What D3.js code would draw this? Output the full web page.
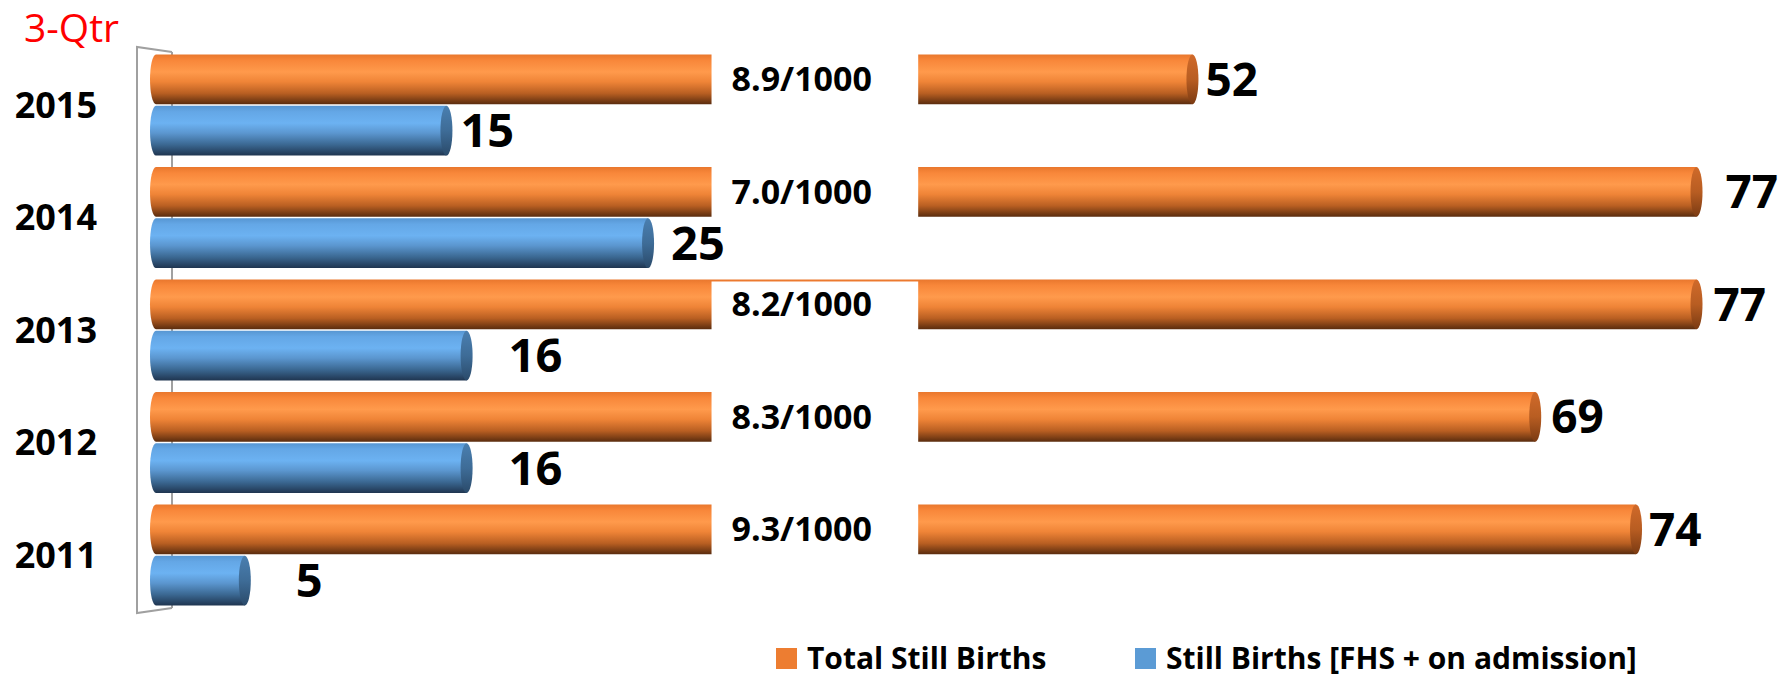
<!DOCTYPE html>
<html>
<head>
<meta charset="utf-8">
<script src="https://cdn.jsdelivr.net/npm/d3@7"></script>
<style>
  body { margin: 0; background: #fff; }
  text { font-family: "Open Sans", "Noto Sans", sans-serif; }
</style>
</head>
<body>
<div id="chart"></div>
<script>
// data
const years = ['2015', '2014', '2013', '2012', '2011'];
const totalStillBirths = [52, 77, 77, 69, 74];
const fhsStillBirths = [15, 25, 16, 16, 5];
const rateLabels = ['8.9/1000', '7.0/1000', '8.2/1000', '8.3/1000', '9.3/1000'];
const seriesNames = ['Total Still Births', 'Still Births [FHS + on admission]'];
const periodLabel = '3-Qtr';

// layout: hand-moved labels in the original, px gap after bar end
const totalLabelGap = [7, 23, 11, 10, 7];
const fhsLabelGap = [8, 17, 36, 36, 45];

const width = 1791, height = 678;

const svg = d3.select('#chart').append('svg')
  .attr('width', width)
  .attr('height', height);

const defs = svg.append('defs');

function cylGrad(id, stops) {
  const g = defs.append('linearGradient')
    .attr('id', id)
    .attr('x1', 0).attr('y1', 0).attr('x2', 0).attr('y2', 1);
  stops.forEach(s => g.append('stop').attr('offset', s[0]).attr('stop-color', s[1]));
}
cylGrad('orangeBody', [[0, '#e9772d'], [0.12, '#f8873a'], [0.35, '#ff9a4c'], [0.55, '#ef8437'], [0.78, '#b95f22'], [1, '#5a2c0e']]);
cylGrad('blueBody', [[0, '#5796d2'], [0.12, '#64a7e6'], [0.35, '#6cb2f2'], [0.55, '#5b96cf'], [0.78, '#3b6892'], [1, '#1f3550']]);
cylGrad('orangeCap', [[0, '#d06a2a'], [0.5, '#b85d22'], [1, '#7a3a12']]);
cylGrad('blueCap', [[0, '#4a7fb0'], [0.5, '#3e6c97'], [1, '#2a4a6a']]);

const x = d3.scaleLinear().domain([0, 80]).range([150, 1763]);

const y = d3.scaleBand()
  .domain(years)
  .range([48, 612])
  .paddingInner(0.102)
  .paddingOuter(0.058);

const ySub = d3.scaleBand()
  .domain(['total', 'fhs'])
  .range([0, y.bandwidth()])
  .paddingInner(0.03);

// 3D wall outline (back line first so bars cover it)
svg.append('line')
  .attr('x1', 172).attr('y1', 52).attr('x2', 172).attr('y2', 608)
  .attr('stroke', '#a0a0a0').attr('stroke-width', 2);
svg.append('path')
  .attr('d', 'M172,52 L137,47 L137,613 L172,608')
  .attr('fill', 'none')
  .attr('stroke', '#a0a0a0')
  .attr('stroke-width', 2);

const rx = 6;

function barPath(x0, x1, top, h) {
  const b = top + h;
  return `M${x0 + rx},${top} L${x1 - rx},${top} L${x1 - rx},${b} L${x0 + rx},${b}` +
    ` A${rx},${h / 2} 0 0 1 ${x0 + rx},${top} Z`;
}

function drawSeries(values, key, body, cap) {
  const g = svg.append('g');
  const rows = g.selectAll('g').data(values).enter().append('g')
    .attr('transform', (d, i) => `translate(0,${y(years[i]) + ySub(key)})`);
  rows.append('path')
    .attr('d', d => barPath(x(0), x(d), 0, ySub.bandwidth()))
    .attr('fill', `url(#${body})`);
  rows.append('ellipse')
    .attr('cx', d => x(d) - rx)
    .attr('cy', ySub.bandwidth() / 2)
    .attr('rx', rx)
    .attr('ry', ySub.bandwidth() / 2)
    .attr('fill', `url(#${cap})`);
  return rows;
}

const totalRows = drawSeries(totalStillBirths, 'total', 'orangeBody', 'orangeCap');

// white break in the orange bars carrying the rate per 1000
const gapFrom = 27.85, gapTo = 38.1;
totalRows.append('rect')
  .attr('x', x(gapFrom))
  .attr('width', x(gapTo) - x(gapFrom))
  .attr('y', (d, i) => years[i] === '2013' ? 2 : -2)
  .attr('height', ySub.bandwidth() + 4)
  .attr('fill', '#fff');
totalRows.append('text')
  .attr('x', x(gapFrom) + 20)
  .attr('y', ySub.bandwidth() / 2 + 12)
  .attr('font-size', 34)
  .attr('font-weight', 700)
  .attr('fill', '#000')
  .text((d, i) => rateLabels[i]);

totalRows.append('text')
  .attr('x', (d, i) => x(d) + totalLabelGap[i])
  .attr('y', ySub.bandwidth() / 2 + 0.357 * 46)
  .attr('font-size', 46)
  .attr('font-weight', 700)
  .text(d => d);

const fhsRows = drawSeries(fhsStillBirths, 'fhs', 'blueBody', 'blueCap');
fhsRows.append('text')
  .attr('x', (d, i) => x(d) + fhsLabelGap[i])
  .attr('y', ySub.bandwidth() / 2 + 0.357 * 47)
  .attr('font-size', 47)
  .attr('font-weight', 700)
  .text(d => d);

// year labels
svg.append('g').selectAll('text')
  .data(years).enter().append('text')
  .attr('x', 97)
  .attr('y', d => y(d) + y.bandwidth() / 2 + 0.357 * 36)
  .attr('text-anchor', 'end')
  .attr('font-size', 36)
  .attr('font-weight', 700)
  .text(d => d);

svg.append('text')
  .attr('x', 24)
  .attr('y', 42)
  .attr('font-size', 39)
  .attr('fill', '#ff0000')
  .text(periodLabel);

// legend
const legendX = [776, 1135];
const legendColors = ['#ed7d31', '#5b9bd5'];
const legend = svg.append('g').selectAll('g')
  .data(seriesNames).enter().append('g')
  .attr('transform', (d, i) => `translate(${legendX[i]},648)`);
legend.append('rect')
  .attr('width', 21).attr('height', 21)
  .attr('fill', (d, i) => legendColors[i]);
legend.append('text')
  .attr('x', 31)
  .attr('y', 21)
  .attr('font-size', 30)
  .attr('font-weight', 700)
  .text(d => d);
</script>
</body>
</html>
